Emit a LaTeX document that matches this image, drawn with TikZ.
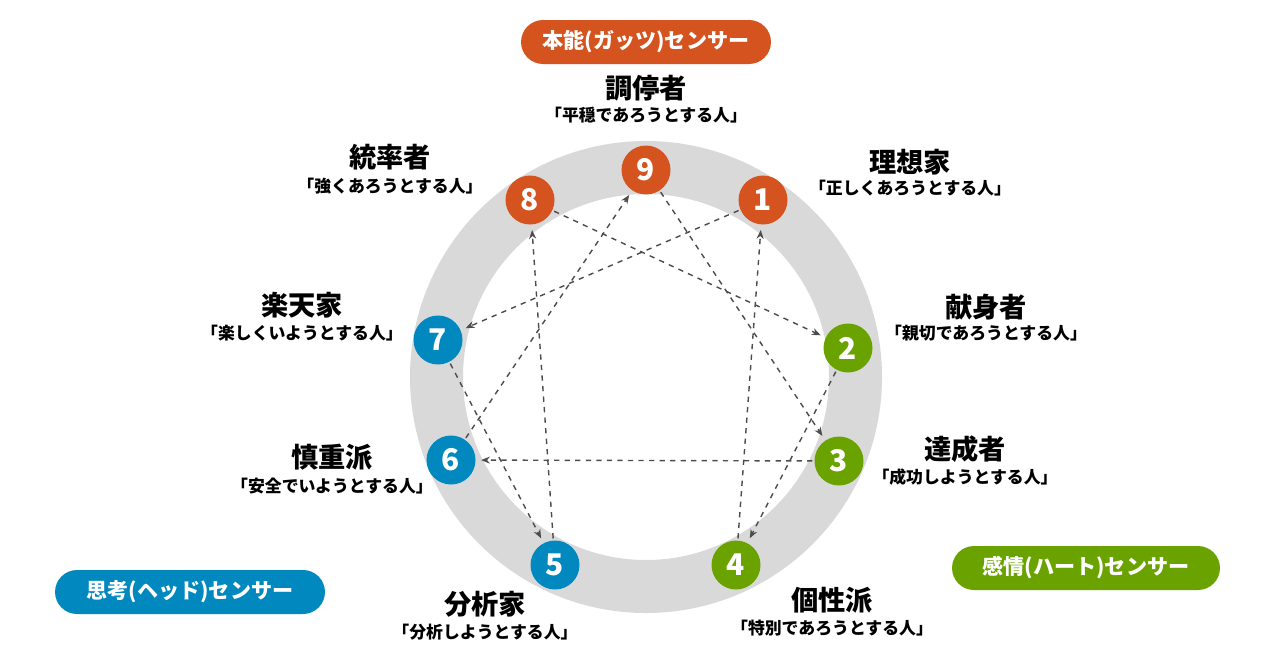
\documentclass[tikz,border=0pt]{standalone}
\usepackage{fontspec}
\setmainfont{Noto Sans CJK JP}
\usetikzlibrary{arrows.meta,positioning}
\definecolor{gut}{HTML}{D4531F}
\definecolor{heart}{HTML}{6AA300}
\definecolor{head}{HTML}{0088BF}
\definecolor{ring}{HTML}{D9D9D9}
\begin{document}
\begin{tikzpicture}
	[x=0.02cm, y=-0.02cm, font=\bfseries,
	% STYLES
	% The num style is used for the numbered circles
	num/.style={circle, minimum size=0.98cm, inner sep=0pt, text=white, font=\bfseries\fontsize{17}{17}\selectfont},
	% The title style is used for the type names
	title/.style={font=\bfseries\fontsize{15.5}{17}\selectfont},
	% The sub style is used for the short descriptions
	sub/.style={font=\bfseries\fontsize{9.6}{11}\selectfont},
	% The pill style is used for the three centers
	pill/.style={rounded corners=0.44cm, minimum height=0.88cm, text=white, font=\bfseries\fontsize{12}{14}\selectfont},
	link/.style={-{Stealth[length=5pt,width=4pt]}, dashed, thick, black!70, shorten >=3pt, shorten <=1pt}]
	
	\useasboundingbox (0,0) rectangle (1280,670);
	
	% Ring
	\fill[ring, even odd rule] (646,377) circle [radius=236] (646,377) circle [radius=183];
	
	% Numbered circles
	\node [num, fill=gut]   (n9) at (646,170) {9};
	\node [num, fill=gut]   (n8) at (530,200) {8};
	\node [num, fill=gut]   (n1) at (763,200) {1};
	\node [num, fill=head]  (n7) at (438,340) {7};
	\node [num, fill=heart] (n2) at (848,348) {2};
	\node [num, fill=head]  (n6) at (451,460) {6};
	\node [num, fill=heart] (n3) at (839,461) {3};
	\node [num, fill=head]  (n5) at (555,565) {5};
	\node [num, fill=heart] (n4) at (736,565) {4};
	
	% Labels
	\node [title] (t9) at (646,88)  {調停者};
	\node [sub]   (s9) at (646,115) {「平穏であろうとする人」};
	\node [title] (t8) at (390,157) {統率者};
	\node [sub]   (s8) at (390,186) {「強くあろうとする人」};
	\node [title] (t1) at (910,162) {理想家};
	\node [sub]   (s1) at (910,188) {「正しくあろうとする人」};
	\node [title] (t7) at (302,305) {楽天家};
	\node [sub]   (s7) at (302,333) {「楽しくいようとする人」};
	\node [title] (t2) at (986,307) {献身者};
	\node [sub]   (s2) at (986,333) {「親切であろうとする人」};
	\node [title] (t6) at (332,457) {慎重派};
	\node [sub]   (s6) at (332,486) {「安全でいようとする人」};
	\node [title] (t3) at (965,449) {達成者};
	\node [sub]   (s3) at (965,477) {「成功しようとする人」};
	\node [title] (t5) at (485,604) {分析家};
	\node [sub]   (s5) at (485,632) {「分析しようとする人」};
	\node [title] (t4) at (832,600) {個性派};
	\node [sub]   (s4) at (832,628) {「特別であろうとする人」};
	
	% Centers
	\node [pill, fill=gut, minimum width=5cm]    (gutc)   at (646,42)  {本能(ガッツ)センサー};
	\node [pill, fill=head, minimum width=5.4cm] (headc)  at (190,592) {思考(ヘッド)センサー};
	\node [pill, fill=heart, minimum width=5.36cm] (heartc) at (1086,568) {感情(ハート)センサー};
	
	% Links
	\path[link]
	(n4) edge (n1)
	(n1) edge (n7)
	(n7) edge (n5)
	(n5) edge (n8)
	(n8) edge (n2)
	(n2) edge (n4)
	(n9) edge (n3)
	(n3) edge (n6)
	(n6) edge (n9);
	
\end{tikzpicture}
\end{document}
